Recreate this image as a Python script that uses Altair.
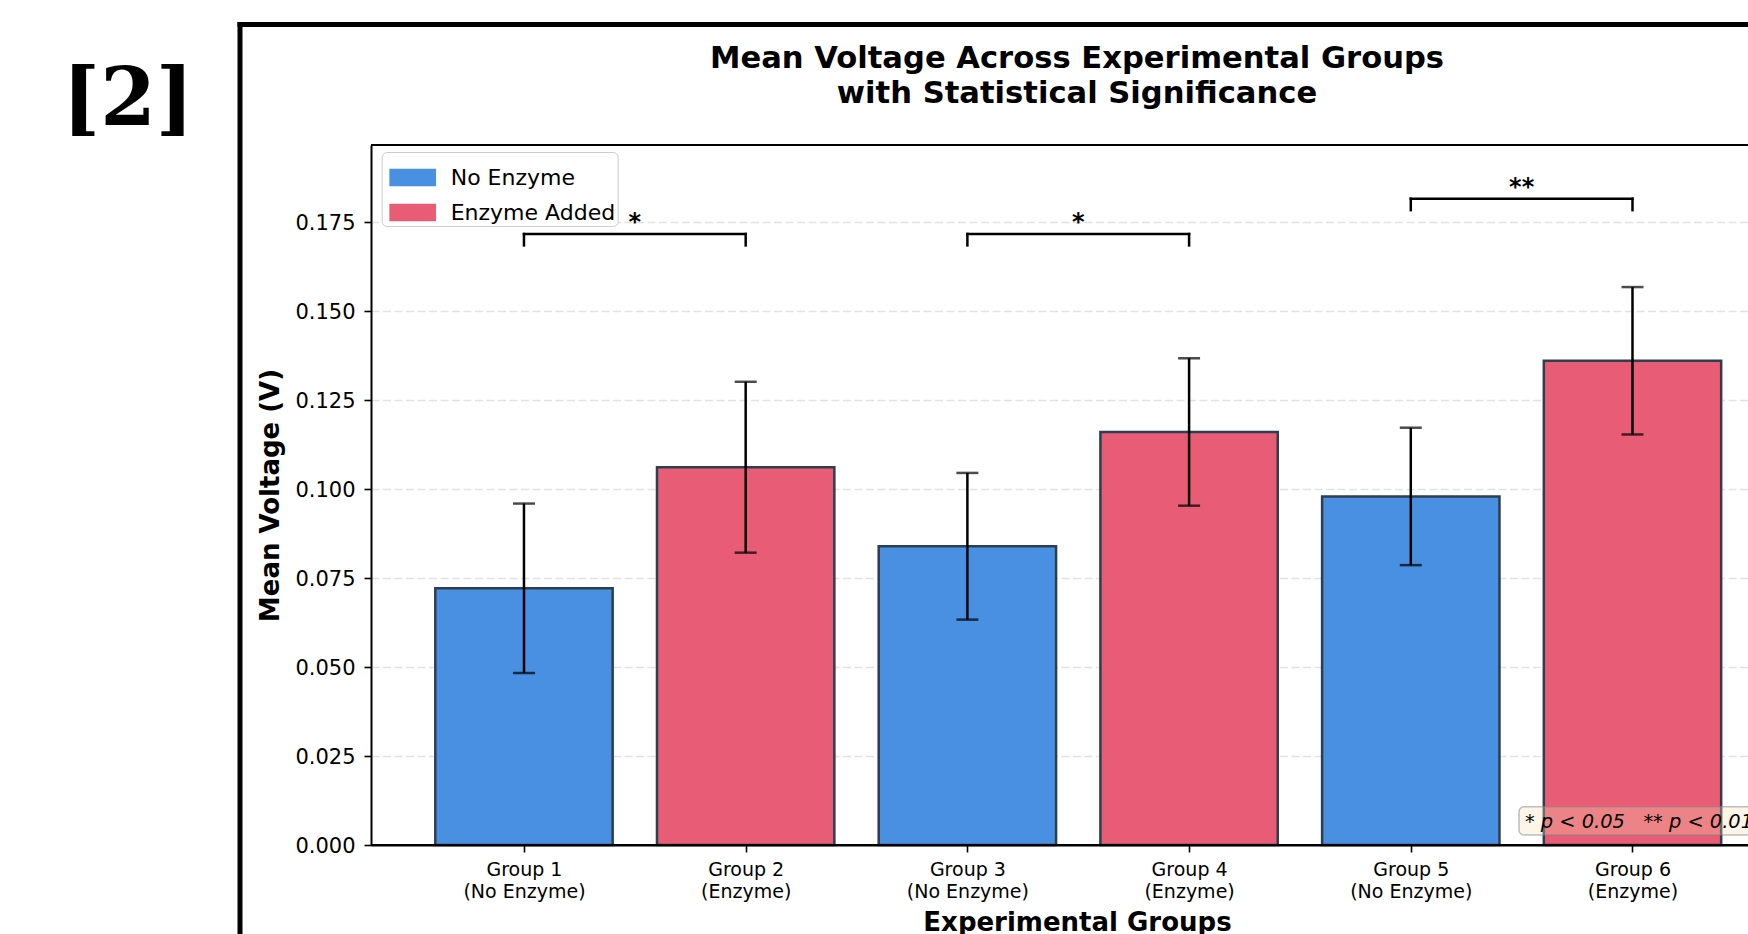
import altair as alt
import pandas as pd

# ---- values -------------------------------------------------------------
groups = ["Group 1", "Group 2", "Group 3", "Group 4", "Group 5", "Group 6"]
group_notes = ["(No Enzyme)", "(Enzyme)", "(No Enzyme)", "(Enzyme)", "(No Enzyme)", "(Enzyme)"]
conditions = ["No Enzyme", "Enzyme Added", "No Enzyme", "Enzyme Added", "No Enzyme", "Enzyme Added"]
mean_voltage = [0.0721, 0.1061, 0.0839, 0.1160, 0.0979, 0.1360]
sem_voltage = [0.0238, 0.0240, 0.0206, 0.0207, 0.0193, 0.0207]

# significance comparisons: left bar, right bar, bracket height, marker
sig_left = [0, 2, 4]
sig_right = [1, 3, 5]
sig_height = [0.1716, 0.1716, 0.1815]
sig_marks = ["*", "*", "**"]

y_ticks = [0.0, 0.025, 0.05, 0.075, 0.1, 0.125, 0.15, 0.175]
legend_order = ["No Enzyme", "Enzyme Added"]
legend_colors = ["#4A90E2", "#E85D75"]
title_lines = ["Mean Voltage Across Experimental Groups", "with Statistical Significance"]
panel_tag = "[2]"
p_note = "* p < 0.05\u00a0\u00a0\u00a0** p < 0.01"

# ---- layout -------------------------------------------------------------
W, H = 1377, 700
PAD = {"left": 371, "top": 145, "right": 0, "bottom": 89}
FONT = "DejaVu Sans"
BAR_HALF = 0.4
TIP_DROP = 0.0032

bars_df = pd.DataFrame({
    "pos": list(range(len(groups))),
    "group": groups,
    "condition": conditions,
    "mean": mean_voltage,
    "sem": sem_voltage,
})
sig_df = pd.DataFrame({"xl": sig_left, "xr": sig_right, "yb": sig_height, "mark": sig_marks})
one = pd.DataFrame({"k": [0]})

xs = alt.Scale(domain=[-0.69, 5.521], nice=False, zero=False)
ys = alt.Scale(domain=[0, 0.1966], nice=False, zero=True)

label_expr = "[" + ",".join(
    f"['{g}','{n}']" for g, n in zip(groups, group_notes)
) + "][datum.value]"

x_axis = alt.Axis(
    values=list(range(len(groups))), labelExpr=label_expr, labelAngle=0,
    labelFont=FONT, labelFontSize=19, labelColor="black", labelLineHeight=22,
    labelBaseline="top", labelPadding=8, labelFlush=False, labelOverlap=False,
    tickSize=7, tickWidth=1.6, tickColor="black",
    domainColor="black", domainWidth=2, grid=False,
    title="Experimental Groups", titleFont=FONT, titleFontSize=26,
    titleFontWeight="bold", titleColor="black", titleX=706, titleY=85,
    titleAlign="center", titleBaseline="alphabetic",
)
y_axis = alt.Axis(
    values=y_ticks, format=".3f",
    labelFont=FONT, labelFontSize=21, labelColor="black", labelPadding=9,
    labelOffset=1.5,
    tickSize=7, tickWidth=1.6, tickColor="black",
    domainColor="black", domainWidth=2,
    grid=True, gridColor="#e2e2e2", gridDash=[8, 3.5], gridWidth=1.4,
    title="Mean Voltage (V)", titleFont=FONT, titleFontSize=26,
    titleFontWeight="bold", titleColor="black", titleAngle=270,
    titleX=-93, titleY=H / 2, titleAlign="center", titleBaseline="alphabetic",
)

def X(field):
    return alt.X(field, type="quantitative", scale=xs, axis=x_axis)

def Y(field):
    return alt.Y(field, type="quantitative", scale=ys, axis=y_axis)

base = alt.Chart(bars_df).transform_calculate(
    x0=f"datum.pos - {BAR_HALF}", x1=f"datum.pos + {BAR_HALF}",
    lo="datum.mean - datum.sem", hi="datum.mean + datum.sem",
)

bars = base.mark_bar(stroke="#2C3E50", strokeWidth=2.5, opacity=1).encode(
    x=X("x0"), x2="x1:Q", y=Y("mean"), y2=alt.datum(0),
    color=alt.Color(
        "condition:N",
        scale=alt.Scale(domain=legend_order, range=legend_colors),
        legend=alt.Legend(
            title=None, orient="none", legendX=10.7, legendY=7,
            fillColor="white", strokeColor="#cccccc",
            cornerRadius=5, padding=2, rowPadding=-5.5,
            symbolType="M-1,-0.375L1,-0.375L1,0.375L-1,0.375Z",
            symbolSize=2181, symbolStrokeWidth=0, symbolOpacity=1,
            symbolOffset=5.5,
            labelFont=FONT, labelFontSize=22, labelColor="black",
            labelOffset=14.5, labelLimit=400,
        ),
    ),
)

err = base.mark_rule(color="black", strokeWidth=2.5).encode(x=X("pos"), y=Y("lo"), y2="hi:Q")
cap_hi = base.mark_tick(orient="horizontal", size=22, thickness=2.5, color="black").encode(
    x=X("pos"), y=Y("hi"))
cap_lo = base.mark_tick(orient="horizontal", size=22, thickness=2.5, color="black").encode(
    x=X("pos"), y=Y("lo"))

sig = alt.Chart(sig_df).transform_calculate(
    tip=f"datum.yb - {TIP_DROP}", xm="(datum.xl + datum.xr) / 2")
br_top = sig.mark_rule(color="black", strokeWidth=2.5, strokeCap="square").encode(
    x=X("xl"), x2="xr:Q", y=Y("yb"))
br_left = sig.mark_rule(color="black", strokeWidth=2.5, strokeCap="square").encode(
    x=X("xl"), y=Y("tip"), y2="yb:Q")
br_right = sig.mark_rule(color="black", strokeWidth=2.5, strokeCap="square").encode(
    x=X("xr"), y=Y("tip"), y2="yb:Q")
stars = sig.mark_text(font=FONT, fontSize=24, fontWeight="bold", color="black",
                      baseline="alphabetic", align="center", dy=-4).encode(
    x=X("xm"), y=Y("yb"), text="mark:N")

# axes frame: top spine and bottom spine drawn over the bars
frame = alt.Chart(one)
top_spine = frame.mark_rule(color="black", strokeWidth=2).encode(
    x=alt.value(0), x2=alt.value(W), y=alt.value(0))
bottom_spine = frame.mark_rule(color="black", strokeWidth=2).encode(
    x=alt.value(0), x2=alt.value(W), y=alt.value(H))

# significance key in the lower right corner
key_box = frame.mark_rect(fill="#F5DEB3", fillOpacity=0.3, stroke="#808080",
                          strokeOpacity=0.5, strokeWidth=1.5, cornerRadius=5,
                          clip=True).encode(
    x=alt.value(1148), x2=alt.value(W + 40), y=alt.value(661.7), y2=alt.value(690))
key_text = frame.mark_text(text=p_note, font=FONT, fontSize=19.4, fontStyle="italic",
                           color="black", align="left", baseline="middle",
                           clip=True).encode(x=alt.value(1154), y=alt.value(677))

# figure title and panel tag
title = frame.mark_text(text=title_lines, font=FONT, fontSize=30.6, fontWeight="bold",
                        color="black", align="center", baseline="alphabetic",
                        lineHeight=35).encode(x=alt.value(706), y=alt.value(-77))
tag = frame.mark_text(text=panel_tag, font="DejaVu Serif", fontSize=80,
                      fontWeight="bold", color="black", align="center",
                      baseline="alphabetic").encode(x=alt.value(-243), y=alt.value(-20))

# thick outer border of the panel
outer_v = frame.mark_rule(color="black", strokeWidth=5, strokeCap="square").encode(
    x=alt.value(-131), y=alt.value(-120.5), y2=alt.value(H + 200))
outer_h = frame.mark_rule(color="black", strokeWidth=5, strokeCap="square").encode(
    x=alt.value(-131), x2=alt.value(W + 200), y=alt.value(-120.5))

chart = alt.layer(
    bars, err, cap_hi, cap_lo, br_top, br_left, br_right, stars,
    top_spine, bottom_spine, key_box, key_text, title, tag, outer_v, outer_h,
).properties(
    width=W, height=H, padding=PAD,
    autosize=alt.AutoSizeParams(type="none"),
    background="white",
).configure_view(strokeWidth=0)

chart.save("out.html", embed_options={"renderer": "svg", "actions": False})
